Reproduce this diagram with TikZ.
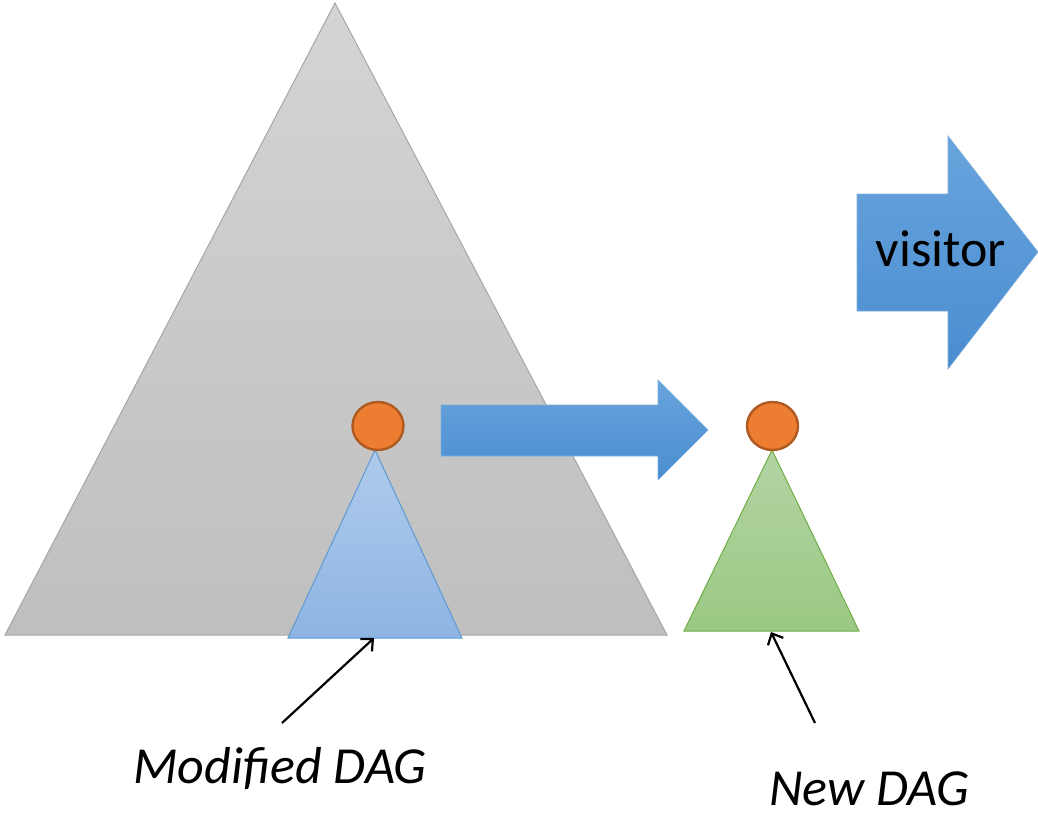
\documentclass[tikz,border=0pt]{standalone}
\usepackage{fontspec}
\setmainfont{Carlito}
\usetikzlibrary{arrows.meta,shapes.geometric}
\definecolor{grayTop}{HTML}{D4D4D4}
\definecolor{grayBot}{HTML}{BFBFBF}
\definecolor{grayEdge}{HTML}{A6A6A6}
\definecolor{blueTop}{HTML}{AFCBEB}
\definecolor{blueBot}{HTML}{8EB4E3}
\definecolor{blueEdge}{HTML}{5B9BD5}
\definecolor{greenTop}{HTML}{B2D4A2}
\definecolor{greenBot}{HTML}{9BC884}
\definecolor{greenEdge}{HTML}{70AD47}
\definecolor{arrTop}{HTML}{68A4DD}
\definecolor{arrBot}{HTML}{4A8DD0}
\definecolor{orangeFill}{HTML}{ED7D31}
\definecolor{orangeEdge}{HTML}{AE5A21}
\tikzset{
  rootnode/.style={ellipse, draw=orangeEdge, fill=orangeFill, line width=2.4pt,
    minimum width=51pt, minimum height=48pt, inner sep=0pt},
  bigarrow/.style={top color=arrTop, bottom color=arrBot, draw=blueEdge!80, line width=0.6pt},
  pointer/.style={draw=black, line width=2.2pt, -{Straight Barb[length=9pt,width=17pt,line width=2.2pt]}},
  caption/.style={font=\itshape\fontsize{52}{60}\selectfont, inner sep=0pt, anchor=base}
}
\begin{document}
\begin{tikzpicture}[x=1pt,y=-1pt]
\useasboundingbox (0,0) rectangle (1038,817);

% large enclosing DAG
\path[top color=grayTop, bottom color=grayBot, draw=grayEdge, line width=1pt]
  (335,3) -- (667,635) -- (5,635) -- cycle;

% modified sub-DAG inside it
\path[top color=blueTop, bottom color=blueBot, draw=blueEdge, line width=1pt]
  (375,450) -- (462,638) -- (288,638) -- cycle;
\coordinate (modBase) at (374,638);

% transform arrow
\path[bigarrow]
  (441,405) -- (658,405) -- (658,380) -- (708,430) -- (658,480) -- (658,456) -- (441,456) -- cycle;

% new sub-DAG
\path[top color=greenTop, bottom color=greenBot, draw=greenEdge, line width=1pt]
  (772,450) -- (859,631) -- (684,631) -- cycle;
\coordinate (newBase) at (771,632);

% roots
\node[rootnode] (rootA) at (378,426) {};
\node[rootnode] (rootB) at (772.5,426) {};

% visitor arrow
\path[bigarrow]
  (857,194) -- (948,194) -- (948,136) -- (1038,252) -- (948,369) -- (948,311) -- (857,311) -- cycle;
\node[font=\fontsize{52}{60}\selectfont, inner sep=0pt, anchor=base] (visitor) at (941,266) {visitor};

% captions
\node[caption] (modLabel) at (280,783) {Modified DAG};
\node[caption] (newLabel) at (869,805) {New DAG};
\coordinate (modTail) at (282,723);
\coordinate (newTail) at (815,723);

\draw[pointer] (modTail) -- (modBase);
\draw[pointer] (newTail) -- (newBase);
\end{tikzpicture}
\end{document}
